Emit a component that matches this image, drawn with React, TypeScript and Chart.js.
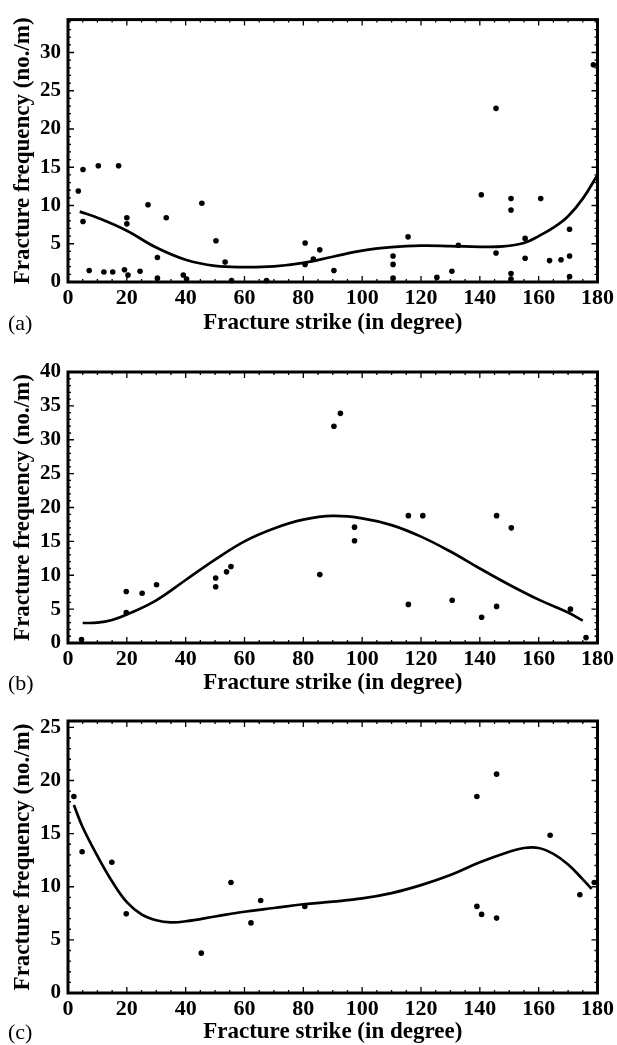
import React, { useEffect, useRef } from "react";
import { Chart, registerables } from "chart.js";

Chart.register(...registerables);

// ---------- Data ----------
const xTickLabels = [0, 20, 40, 60, 80, 100, 120, 140, 160, 180];
const yStep = 5;

// Panel (a)
const aStrike = [3.5, 5.1, 5.1, 7.2, 10.3, 12.2, 15.2, 17.2, 19.2, 20.0, 20.0, 20.4, 24.5, 27.2, 30.4, 30.4, 33.4, 39.2, 40.3, 45.5, 50.3, 53.4, 55.6, 67.5, 80.6, 80.6, 83.4, 85.6, 90.4, 110.5, 110.5, 110.5, 115.6, 125.4, 130.5, 132.7, 140.5, 145.5, 145.5, 150.6, 150.6, 150.6, 150.6, 155.4, 155.4, 160.7, 163.7, 167.6, 170.5, 170.5, 170.5, 178.6];
const aFreq = [11.9, 14.7, 7.9, 1.5, 15.2, 1.3, 1.3, 15.2, 1.6, 8.4, 7.6, 0.9, 1.4, 10.1, 3.2, 0.5, 8.4, 0.9, 0.4, 10.3, 5.4, 2.6, 0.2, 0.2, 5.1, 2.3, 3.0, 4.2, 1.5, 3.4, 2.3, 0.5, 5.9, 0.6, 1.4, 4.8, 11.4, 22.7, 3.8, 10.9, 9.4, 1.1, 0.4, 5.7, 3.1, 10.9, 2.8, 2.9, 6.9, 3.4, 0.7, 28.4];
const aFitStrike = [4, 10, 20, 30, 40, 50, 60, 70, 80, 90, 100, 110, 120, 130, 140, 148, 155, 160, 165, 170, 175, 180];
const aFitFreq = [9.2, 8.4, 6.7, 4.5, 2.9, 2.1, 1.95, 2.05, 2.5, 3.3, 4.1, 4.55, 4.75, 4.7, 4.6, 4.65, 5.1, 6.0, 7.1, 8.6, 10.9, 14.0];

// Panel (b)
const bStrike = [4.6, 19.8, 19.8, 25.2, 30.1, 50.2, 50.2, 53.9, 55.4, 85.6, 90.4, 92.6, 97.4, 97.4, 115.7, 120.6, 115.7, 130.6, 140.6, 145.7, 145.7, 150.7, 170.8, 176.1];
const bFreq = [0.5, 7.6, 4.5, 7.35, 8.6, 9.6, 8.3, 10.5, 11.3, 10.1, 32.0, 33.9, 17.1, 15.1, 18.8, 18.8, 5.7, 6.3, 3.8, 18.8, 5.4, 17.0, 5.0, 0.8];
const bFitStrike = [5, 10, 15, 20, 30, 40, 50, 60, 70, 80, 90, 100, 110, 120, 130, 140, 150, 160, 170, 175];
const bFitFreq = [2.95, 3.0, 3.4, 4.2, 6.3, 9.3, 12.3, 15.0, 16.9, 18.2, 18.75, 18.4, 17.4, 15.7, 13.5, 11.0, 8.6, 6.4, 4.5, 3.3];

// Panel (c)
const cStrike = [2.0, 4.8, 14.9, 19.8, 45.3, 55.4, 62.2, 65.5, 80.5, 139.0, 145.7, 139.0, 140.6, 145.7, 163.9, 174.0, 178.9];
const cFreq = [18.5, 13.3, 12.3, 7.45, 3.75, 10.4, 6.6, 8.7, 8.15, 18.5, 20.6, 8.15, 7.4, 7.05, 14.85, 9.25, 10.4];
const cFitStrike = [2, 5, 10, 15, 20, 25, 30, 35, 40, 50, 60, 70, 80, 90, 100, 110, 120, 130, 140, 150, 155, 160, 165, 170, 175, 178];
const cFitFreq = [17.7, 15.6, 12.9, 10.5, 8.55, 7.4, 6.85, 6.65, 6.75, 7.2, 7.65, 8.0, 8.35, 8.6, 8.9, 9.4, 10.15, 11.1, 12.3, 13.3, 13.65, 13.65, 13.1, 12.1, 10.7, 9.8];

const xTitle = "Fracture strike (in degree)";
const yTitle = "Fracture frequency (no./m)";

// ---------- Layout ----------
const FONT = '"Liberation Serif", "DejaVu Serif", "Times New Roman", serif';

type Panel = {
  tag: string;
  strike: number[];
  freq: number[];
  fitX: number[];
  fitY: number[];
  yMax: number;
  top: number;
  height: number;
  areaTop: number;
  areaBottom: number;
  titleBottom: number;
  tagTop: number;
};

const panels: Panel[] = [
  { tag: "(a)", strike: aStrike, freq: aFreq, fitX: aFitStrike, fitY: aFitFreq, yMax: 34.3, top: 0, height: 340, areaTop: 11, areaBottom: 282, titleBottom: 3, tagTop: 310 },
  { tag: "(b)", strike: bStrike, freq: bFreq, fitX: bFitStrike, fitY: bFitFreq, yMax: 40, top: 345, height: 355, areaTop: 27, areaBottom: 298, titleBottom: 3, tagTop: 670 },
  { tag: "(c)", strike: cStrike, freq: cFreq, fitX: cFitStrike, fitY: cFitFreq, yMax: 25.6, top: 700, height: 345, areaTop: 21, areaBottom: 293, titleBottom: -1, tagTop: 1019 },
];

const frameAndTicks = {
  id: "frameAndTicks",
  afterDatasetsDraw(chart: any) {
    const { ctx, chartArea, scales } = chart;
    const { left, right, top, bottom } = chartArea;
    ctx.save();
    ctx.strokeStyle = "#000";
    ctx.lineWidth = 1.3;
    ctx.beginPath();
    const xs = scales.x;
    for (let v = 0; v <= 180; v += 5) {
      const px = xs.getPixelForValue(v);
      const len = v % 20 === 0 ? 6 : 3;
      ctx.moveTo(px, bottom);
      ctx.lineTo(px, bottom - len);
      ctx.moveTo(px, top);
      ctx.lineTo(px, top + len);
    }
    const ys = scales.y;
    for (let v = 0; v <= ys.max; v += 1) {
      const py = ys.getPixelForValue(v);
      const len = v % 5 === 0 ? 6 : 3;
      ctx.moveTo(left, py);
      ctx.lineTo(left + len, py);
      ctx.moveTo(right, py);
      ctx.lineTo(right - len, py);
    }
    ctx.stroke();
    ctx.lineWidth = 3;
    ctx.strokeRect(left, top, right - left, bottom - top);
    ctx.restore();
  },
};

function PanelChart({ p }: { p: Panel }) {
  const ref = useRef<HTMLCanvasElement>(null);
  useEffect(() => {
    if (!ref.current) return;
    const points = p.strike.map((x, i) => ({ x, y: p.freq[i] }));
    const fit = p.fitX.map((x, i) => ({ x, y: p.fitY[i] }));
    const chart = new Chart(ref.current, {
      type: "scatter",
      data: {
        datasets: [
          {
            data: fit,
            showLine: true,
            pointRadius: 0,
            borderColor: "#000",
            borderWidth: 2.7,
            tension: 0.4,
            fill: false,
          } as any,
          {
            data: points,
            pointRadius: 2.8,
            pointBorderWidth: 0,
            backgroundColor: "#000",
            borderColor: "#000",
            clip: false,
          } as any,
        ],
      },
      options: {
        animation: false,
        responsive: false,
        devicePixelRatio: 1,
        layout: { padding: { top: p.areaTop, right: 14, left: 0, bottom: 0 } },
        plugins: { legend: { display: false }, tooltip: { enabled: false } },
        scales: {
          x: {
            type: "linear",
            min: 0,
            max: 180,
            afterBuildTicks: (s: any) => {
              s.ticks = xTickLabels.map((v) => ({ value: v }));
            },
            ticks: {
              color: "#000",
              padding: 3,
              maxRotation: 0,
              autoSkip: false,
              font: { family: FONT, size: 22, weight: "bold" },
            },
            grid: { display: false, drawTicks: false },
            border: { display: false },
            title: {
              display: true,
              text: xTitle,
              color: "#000",
              font: { family: FONT, size: 23, weight: "bold" },
              padding: { top: 0, bottom: p.titleBottom },
            },
            afterFit: (s: any) => {
              s.height = p.height - p.areaBottom;
            },
          },
          y: {
            type: "linear",
            min: 0,
            max: p.yMax,
            afterBuildTicks: (s: any) => {
              const t: any[] = [];
              for (let v = 0; v <= p.yMax + 1e-9; v += yStep) t.push({ value: v });
              s.ticks = t;
            },
            ticks: {
              stepSize: yStep,
              color: "#000",
              padding: 7,
              autoSkip: false,
              font: { family: FONT, size: 21, weight: "bold" },
            },
            grid: { display: false, drawTicks: false },
            border: { display: false },
            title: {
              display: true,
              text: yTitle,
              color: "#000",
              font: { family: FONT, size: 23, weight: "bold" },
              padding: { top: 9, bottom: 0 },
            },
            afterFit: (s: any) => {
              s.width = 68;
            },
          },
        },
      },
      plugins: [frameAndTicks],
    });
    return () => chart.destroy();
  }, [p]);
  return (
    <canvas
      ref={ref}
      width={617}
      height={p.height}
      style={{ position: "absolute", left: 0, top: p.top, width: 617, height: p.height }}
    />
  );
}

export default function App() {
  return (
    <div style={{ position: "absolute", left: 0, top: 0, width: 617, height: 1045, background: "#fff", overflow: "hidden" }}>
      {panels.map((p) => (
        <React.Fragment key={p.tag}>
          <PanelChart p={p} />
          <div
            style={{
              position: "absolute",
              left: 8,
              top: p.tagTop,
              fontFamily: FONT,
              fontSize: 22,
              lineHeight: "26px",
              color: "#000",
            }}
          >
            {p.tag}
          </div>
        </React.Fragment>
      ))}
    </div>
  );
}
